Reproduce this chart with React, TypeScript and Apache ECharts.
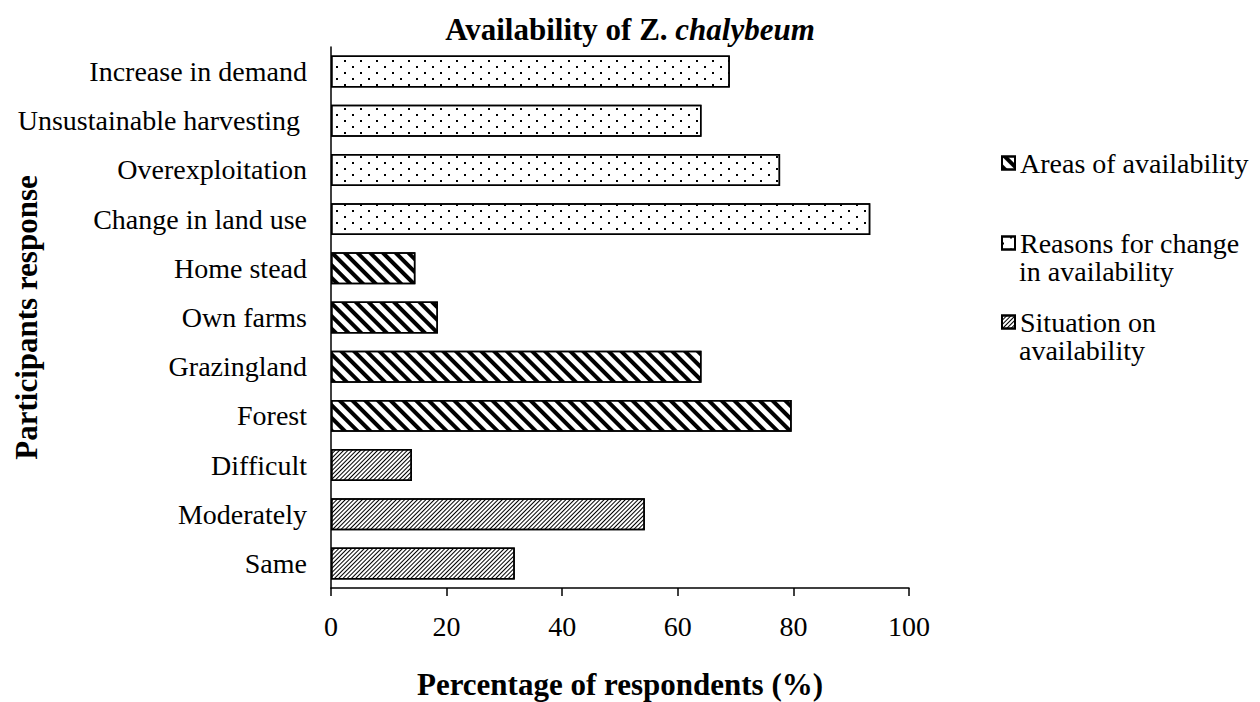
import React, { useEffect, useRef } from "react";
import * as echarts from "echarts";

const situationCategories = ["Same", "Moderately", "Difficult"];
const situationValues = [31.8, 54.3, 14.0];
const areasCategories = ["Forest", "Grazingland", "Own farms", "Home stead"];
const areasValues = [79.7, 64.1, 18.5, 14.6];
const reasonsCategories = [
  "Change in land use",
  "Overexploitation",
  "Unsustainable harvesting ",
  "Increase in demand",
];
const reasonsValues = [93.3, 77.7, 64.1, 69.0];
const categories = [...situationCategories, ...areasCategories, ...reasonsCategories];
const xTicks = { min: 0, max: 100, interval: 20 };

const FONT = "'Liberation Serif', 'Times New Roman', serif";

function buildData(cats: string[], vals: number[]) {
  return categories.map((c) => {
    const i = cats.indexOf(c);
    return i >= 0 ? vals[i] : "-";
  });
}

export default function App() {
  const ref = useRef<HTMLDivElement>(null);
  useEffect(() => {
    if (!ref.current) return;
    const chart = echarts.init(ref.current, null, { renderer: "svg" });
    const border = { borderColor: "#000", borderWidth: 1.5, color: "#fff" };
    const areasDecal = {
      symbol: "rect",
      symbolSize: 1,
      color: "#000",
      backgroundColor: "#fff",
      dashArrayX: [3.5, 4.7],
      dashArrayY: [1, 0],
      rotation: -Math.PI / 4,
    };
    const reasonsDecal = {
      symbol: "rect",
      symbolSize: 1,
      color: "#000",
      backgroundColor: "#fff",
      dashArrayX: [
        [2, 14],
        [0, 8, 2, 6],
      ],
      dashArrayY: [2, 4],
      rotation: 0,
    };
    const situationDecal = {
      symbol: "rect",
      symbolSize: 1,
      color: "#000",
      backgroundColor: "#fff",
      dashArrayX: [1, 1.6],
      dashArrayY: [1, 0],
      rotation: Math.PI / 4,
    };
    const legendBase = {
      left: 1001,
      orient: "vertical",
      padding: 0,
      itemWidth: 13,
      itemHeight: 13,
      icon: "rect",
      selectedMode: false,
      textStyle: { fontFamily: FONT, fontSize: 28, color: "#000", lineHeight: 29 },
    };
    const secondLine = (text: string, y: number) => ({
      type: "text",
      left: 1019,
      top: y - 14.5,
      style: {
        text,
        fontFamily: FONT,
        fontSize: 28,
        lineHeight: 29,
        fill: "#000",
      },
    });
    const option = {
      animation: false,
      backgroundColor: "#fff",
      title: {
        text: "Availability of Z. {i|chalybeum}",
        left: "center",
        top: 14,
        padding: 0,
        textStyle: {
          fontFamily: FONT,
          fontWeight: "bold",
          fontSize: 31,
          color: "#000",
          rich: {
            i: {
              fontFamily: FONT,
              fontWeight: "bold",
              fontStyle: "italic",
              fontSize: 31,
              color: "#000",
            },
          },
        },
      },
      legend: [
        { ...legendBase, top: 148.5, data: ["Areas of availability"] },
        {
          ...legendBase,
          top: 228.5,
          data: ["Reasons for change in availability"],
          formatter: () => "Reasons for change",
        },
        {
          ...legendBase,
          top: 307.5,
          data: ["Situation on availability"],
          formatter: () => "Situation on",
        },
      ],
      graphic: [secondLine("in availability", 271), secondLine("availability", 350)],
      grid: {
        left: 331,
        right: 351,
        top: 47,
        bottom: 114,
        containLabel: false,
        outerBoundsMode: "none",
      },
      xAxis: {
        type: "value",
        min: xTicks.min,
        max: xTicks.max,
        interval: xTicks.interval,
        name: "Percentage of respondents (%)",
        nameLocation: "middle",
        nameGap: 81,
        nameMoveOverlap: false,
        nameTextStyle: { fontFamily: FONT, fontWeight: "bold", fontSize: 31, color: "#000" },
        axisLine: { show: true, lineStyle: { color: "#000", width: 1.5 } },
        axisTick: { show: true, length: 8, lineStyle: { color: "#000", width: 1.5 } },
        splitLine: { show: false },
        axisLabel: { fontFamily: FONT, fontSize: 28, color: "#000", margin: 24 },
      },
      yAxis: {
        type: "category",
        data: categories,
        name: "Participants response",
        nameLocation: "middle",
        nameGap: 289,
        nameMoveOverlap: false,
        nameTextStyle: { fontFamily: FONT, fontWeight: "bold", fontSize: 31, color: "#000" },
        axisLine: { show: true, lineStyle: { color: "#000", width: 1.5 } },
        axisTick: { show: false },
        splitLine: { show: false },
        axisLabel: { fontFamily: FONT, fontSize: 28, color: "#000", margin: 24 },
      },
      series: [
        {
          name: "Areas of availability",
          type: "bar",
          stack: "all",
          barCategoryGap: "35%",
          data: buildData(areasCategories, areasValues),
          itemStyle: { ...border, decal: areasDecal },
        },
        {
          name: "Reasons for change in availability",
          type: "bar",
          stack: "all",
          barCategoryGap: "35%",
          data: buildData(reasonsCategories, reasonsValues),
          itemStyle: { ...border, decal: reasonsDecal },
        },
        {
          name: "Situation on availability",
          type: "bar",
          stack: "all",
          barCategoryGap: "35%",
          data: buildData(situationCategories, situationValues),
          itemStyle: { ...border, decal: situationDecal },
        },
      ],
    };
    chart.setOption(option as any);
    return () => chart.dispose();
  }, []);
  return (
    <div
      ref={ref}
      style={{ position: "fixed", left: 0, top: 0, width: 1260, height: 702, background: "#fff" }}
    />
  );
}
